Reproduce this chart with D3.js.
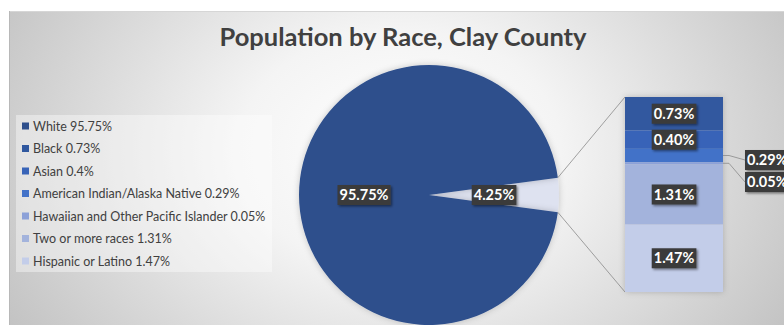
<!DOCTYPE html>
<html>
<head>
<meta charset="utf-8">
<script src="https://cdn.jsdelivr.net/npm/d3@7"></script>
<style>
  html, body { margin: 0; padding: 0; background: #fff; }
  svg { display: block; }
</style>
</head>
<body>
<svg id="chart" width="784" height="325"></svg>
<script>
// Population shares by race (percent of total)
const categories = ["White", "Black", "Asian", "American Indian/Alaska Native",
  "Hawaiian and Other Pacific Islander", "Two or more races", "Hispanic or Latino"];
const values = [95.75, 0.73, 0.4, 0.29, 0.05, 1.31, 1.47];
const legendValueText = ["95.75%", "0.73%", "0.4%", "0.29%", "0.05%", "1.31%", "1.47%"];
const colors = ["#2E4F8C", "#30589F", "#3864B8", "#4372C8", "#8CA1D8", "#A3B3DC", "#C3CDE9"];
const otherColor = "#DEE2F0";
const titleText = "Population by Race, Clay County";

const svg = d3.select("#chart");
const W = 784, H = 325;

// Background with soft radial highlight
const defs = svg.append("defs");
const grad = defs.append("radialGradient").attr("id", "bg")
  .attr("gradientUnits", "userSpaceOnUse")
  .attr("cx", 400).attr("cy", 150).attr("r", 460)
  .attr("gradientTransform", "translate(400,150) scale(1,0.75) translate(-400,-150)");
grad.append("stop").attr("offset", "0").attr("stop-color", "#ffffff");
grad.append("stop").attr("offset", "0.35").attr("stop-color", "#f4f4f4");
grad.append("stop").attr("offset", "1").attr("stop-color", "#c2c2c2");

const shadow = defs.append("filter").attr("id", "shadow")
  .attr("x", "-20%").attr("y", "-30%").attr("width", "150%").attr("height", "170%");
shadow.append("feDropShadow").attr("dx", 1.5).attr("dy", 1.5).attr("stdDeviation", 1)
  .attr("flood-color", "#000").attr("flood-opacity", 0.45);

const pieShadow = defs.append("filter").attr("id", "pieShadow")
  .attr("x", "-20%").attr("y", "-20%").attr("width", "140%").attr("height", "140%");
pieShadow.append("feDropShadow").attr("dx", 0).attr("dy", 0).attr("stdDeviation", 3)
  .attr("flood-color", "#000").attr("flood-opacity", 0.2);

svg.append("rect").attr("x", 9).attr("y", 11).attr("width", W - 9).attr("height", H - 11)
  .attr("fill", "url(#bg)");
svg.append("line").attr("x1", 9).attr("x2", W).attr("y1", 11.5).attr("y2", 11.5)
  .attr("stroke", "#d6d6d6").attr("stroke-width", 1);
svg.append("line").attr("x1", 9.5).attr("x2", 9.5).attr("y1", 11).attr("y2", H)
  .attr("stroke", "#b8b8b8").attr("stroke-width", 1);

// Title
svg.append("text").attr("x", 403).attr("y", 46).attr("text-anchor", "middle")
  .attr("font-family", "Lato, 'Open Sans', sans-serif").attr("font-weight", 700)
  .attr("font-size", 25.5).attr("fill", "#404040").text(titleText);

// Legend
const legend = svg.append("g");
legend.append("rect").attr("x", 16).attr("y", 115).attr("width", 256).attr("height", 157)
  .attr("fill", "#ffffff").attr("opacity", 0.4);
const legY = d3.scalePoint().domain(categories).range([126, 261]);
const legItems = legend.selectAll("g.item").data(categories).join("g").attr("class", "item")
  .attr("transform", d => `translate(0,${legY(d)})`);
legItems.append("rect").attr("x", 22).attr("y", -3.5).attr("width", 7).attr("height", 7)
  .attr("fill", (d, i) => colors[i]);
legItems.append("text").attr("x", 33).attr("y", 4.5)
  .attr("font-family", "Lato, 'Open Sans', sans-serif").attr("font-size", 12.5)
  .attr("fill", "#404040").text((d, i) => `${d} ${legendValueText[i]}`);

// Main pie: White vs. all other groups combined
const otherTotal = d3.sum(values.slice(1));
const pieData = [{ name: "Other", value: otherTotal }, { name: "White", value: values[0] }];
const cx = 429, cy = 195, R = 130;
const otherAngle = otherTotal / d3.sum(values) * 2 * Math.PI;
const start = Math.PI / 2 - otherAngle / 2;
const pie = d3.pie().sort(null).value(d => d.value).startAngle(start).endAngle(start + 2 * Math.PI);
const arcs = pie(pieData);
const arc = d3.arc().innerRadius(0).outerRadius(R);
const pieG = svg.append("g").attr("transform", `translate(${cx},${cy})`);
pieG.selectAll("path").data(arcs).join("path")
  .attr("d", arc)
  .attr("fill", d => d.data.name === "White" ? colors[0] : otherColor)
  .attr("filter", "url(#pieShadow)");

// Stacked bar breaking down the "Other" slice
const sub = categories.slice(1).map((c, i) => ({ name: c, value: values[i + 1], color: colors[i + 1] }));
let acc = 0;
sub.forEach(d => { d.y0 = acc; acc += d.value; d.y1 = acc; });
const barX0 = 625, barX1 = 723;
const y = d3.scaleLinear().domain([0, otherTotal]).range([97, 292]);

// Connector lines from the slice edge to the bar
const edgeTop = [cx + R * Math.sin(arcs[0].startAngle), cy - R * Math.cos(arcs[0].startAngle)];
const edgeBot = [cx + R * Math.sin(arcs[0].endAngle), cy - R * Math.cos(arcs[0].endAngle)];
svg.append("line").attr("x1", edgeTop[0]).attr("y1", edgeTop[1])
  .attr("x2", barX0).attr("y2", y(0)).attr("stroke", "#8a8a8a").attr("stroke-width", 0.8);
svg.append("line").attr("x1", edgeBot[0]).attr("y1", edgeBot[1])
  .attr("x2", barX0).attr("y2", y(otherTotal)).attr("stroke", "#8a8a8a").attr("stroke-width", 0.8);

const barG = svg.append("g").attr("filter", "url(#pieShadow)");
barG.selectAll("rect").data(sub).join("rect")
  .attr("x", barX0).attr("width", barX1 - barX0)
  .attr("y", d => y(d.y0)).attr("height", d => y(d.y1) - y(d.y0))
  .attr("fill", d => d.color);

// Data label helper: white bold text on a dark box
function label(x, yy, txt, anchor) {
  const g = svg.append("g");
  const t = g.append("text").attr("x", x).attr("y", yy + 5)
    .attr("text-anchor", anchor || "middle")
    .attr("font-family", "Lato, 'Open Sans', sans-serif").attr("font-weight", 700)
    .attr("font-size", 14.5).attr("fill", "#ffffff").text(txt);
  const b = t.node().getBBox();
  g.insert("rect", "text").attr("x", b.x - 2).attr("y", yy - 10).attr("width", b.width + 4).attr("height", 20)
    .attr("fill", "#3a3a3a").attr("filter", "url(#shadow)");
}

const fmt = d3.format(".2f");
arcs.forEach(a => {
  const ang = (a.startAngle + a.endAngle) / 2;
  const lx = cx + R * 0.5 * Math.sin(ang), ly = cy - R * 0.5 * Math.cos(ang);
  label(lx, ly, fmt(a.data.value) + "%");
});

// Bar labels: inside for large segments, outside with leader lines for thin ones
const outsideY = { "American Indian/Alaska Native": 160, "Hawaiian and Other Pacific Islander": 182 };
sub.forEach(d => {
  const mid = (y(d.y0) + y(d.y1)) / 2;
  if (outsideY[d.name] !== undefined) {
    const ly = outsideY[d.name];
    svg.append("polyline")
      .attr("points", `${barX1},${mid} ${barX1 + 6},${mid} ${745},${ly}`)
      .attr("fill", "none").attr("stroke", "#8a8a8a").attr("stroke-width", 0.8);
    label(747, ly, fmt(d.value) + "%", "start");
  } else {
    label((barX0 + barX1) / 2, mid, fmt(d.value) + "%");
  }
});
</script>
</body>
</html>
